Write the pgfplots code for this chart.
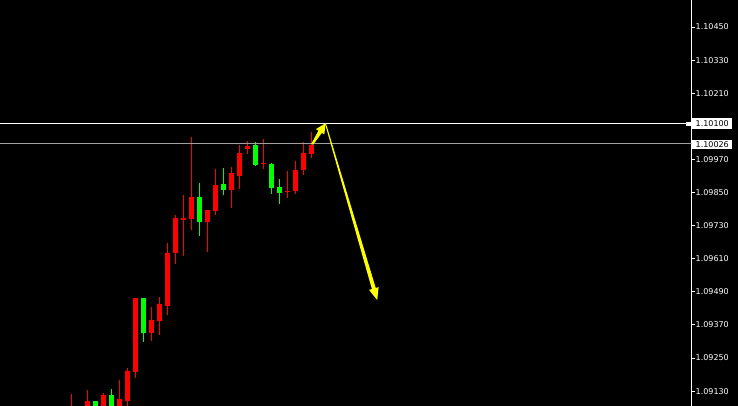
\documentclass[border=0pt]{standalone}
\usepackage{pgfplots}
\pgfplotsset{compat=1.18}
\usepackage{pgfplotstable}
\usepackage{fontspec}
\setmainfont{DejaVu Sans}

% x = candle index, hi/lo = wick, bt/bb = body top/bottom
\pgfplotstableread{
x hi lo bt bb
0 1.09120 1.09000 1.09060 1.09050
1 1.09060 1.09000 1.09050 1.09020
2 1.09135 1.09000 1.09094 1.09040
4 1.09123 1.09000 1.09115 1.09040
6 1.09171 1.09000 1.09101 1.09040
7 1.09214 1.09000 1.09206 1.09095
8 1.09469 1.09178 1.09468 1.09200
10 1.09435 1.09311 1.09387 1.09341
11 1.09472 1.09333 1.09445 1.09385
12 1.09667 1.09407 1.09634 1.09439
13 1.09767 1.09591 1.09757 1.09632
14 1.09841 1.09621 1.09757 1.09754
15 1.10051 1.09715 1.09834 1.09754
17 1.09786 1.09635 1.09786 1.09744
18 1.09935 1.09769 1.09877 1.09784
20 1.09942 1.09795 1.09921 1.09860
21 1.10022 1.09864 1.09993 1.09911
22 1.10040 1.09991 1.10020 1.10009
24 1.10045 1.09936 1.09958 1.09955
27 1.09928 1.09831 1.09857 1.09854
28 1.09964 1.09845 1.09931 1.09855
29 1.10033 1.09916 1.09994 1.09931
30 1.10069 1.09976 1.10025 1.09991
}\redc

\pgfplotstableread{
x hi lo bt bb
3 1.09094 1.09000 1.09094 1.09040
5 1.09138 1.09000 1.09115 1.09040
9 1.09468 1.09308 1.09468 1.09341
16 1.09884 1.09693 1.09834 1.09744
19 1.09939 1.09842 1.09882 1.09860
23 1.10033 1.09947 1.10023 1.09951
25 1.09960 1.09845 1.09957 1.09867
26 1.09902 1.09809 1.09870 1.09849
}\greenc

\definecolor{mtred}{RGB}{255,0,0}
\definecolor{mtgreen}{RGB}{0,255,0}
\definecolor{mtyellow}{RGB}{255,255,0}
\definecolor{mtgray}{RGB}{160,160,160}

\pgfplotsset{candle/.style={only marks, mark=*, mark size=0pt,
  mark options={draw=none, fill=none},
  error bars/.cd, y dir=both, y explicit, error mark=none}}

\begin{document}
\begin{tikzpicture}
\fill[black] (0,0) rectangle (738pt,406pt);
\begin{axis}[
  at={(0,0)}, anchor=south west,
  scale only axis, width=691.5pt, height=406pt,
  xmin=-8.9375, xmax=77.5, ymin=1.09076, ymax=1.10548,
  hide x axis,
  axis y line=right,
  axis line style={-, white, line width=1pt},
  ytick={1.0913,1.0925,1.0937,1.0949,1.0961,1.0973,1.0985,1.0997,1.1009,1.1021,1.1033,1.1045},
  yticklabels={1.09130,1.09250,1.09370,1.09490,1.09610,1.09730,1.09850,1.09970,{},1.10210,1.10330,1.10450},
  tick align=outside, major tick length=3.5pt,
  tick style={white, line width=1pt},
  yticklabel style={anchor=west, inner sep=0pt, font=\fontsize{8pt}{9pt}\selectfont, text=white, xshift=0.5pt},
  clip=true,
]
% wicks
\addplot[candle, error bar style={mtred, line width=1pt}]
  table[x=x, y expr=(\thisrow{hi}+\thisrow{lo})/2, y error expr=(\thisrow{hi}-\thisrow{lo})/2] {\redc};
\addplot[candle, error bar style={mtgreen, line width=1pt}]
  table[x=x, y expr=(\thisrow{hi}+\thisrow{lo})/2, y error expr=(\thisrow{hi}-\thisrow{lo})/2] {\greenc};
% bodies
\addplot[candle, error bar style={mtred, line width=5pt}]
  table[x=x, y expr=(\thisrow{bt}+\thisrow{bb})/2, y error expr=(\thisrow{bt}-\thisrow{bb})/2] {\redc};
\addplot[candle, error bar style={mtgreen, line width=5pt}]
  table[x=x, y expr=(\thisrow{bt}+\thisrow{bb})/2, y error expr=(\thisrow{bt}-\thisrow{bb})/2] {\greenc};
% horizontal lines
\addplot[white, line width=1pt] coordinates {(-8.9375,1.10100) (77.5,1.10100)};
\addplot[mtgray, line width=1pt] coordinates {(-8.9375,1.10026) (77.5,1.10026)};
% yellow arrows
\addplot[fill=mtyellow, draw=none] coordinates {
 (30.19,1.10023) (31.29,1.10066) (31.61,1.10061) (31.75,1.10101)
 (30.56,1.10080) (30.87,1.10074) (29.98,1.10027)} -- cycle;
\addplot[fill=mtyellow, draw=none] coordinates {
 (31.81,1.10100) (38.03,1.09504) (38.39,1.09507) (38.21,1.09460)
 (37.19,1.09497) (37.55,1.09500) (31.69,1.10099)} -- cycle;
\coordinate (L1) at (axis cs:77.5,1.10100);
\coordinate (L2) at (axis cs:77.5,1.10026);
\end{axis}
\fill[white] ([xshift=-6pt,yshift=-2pt]L1) rectangle ([xshift=-1pt,yshift=2pt]L1);
\node[fill=white, text=black, anchor=west, inner xsep=3.5pt, inner ysep=0pt, minimum height=10.5pt,
  font=\fontsize{8pt}{9pt}\selectfont] at ([xshift=0.5pt]L1) {1.10100};
\node[fill=white, text=black, anchor=west, inner xsep=3.5pt, inner ysep=0pt, minimum height=9.5pt,
  font=\fontsize{8pt}{9pt}\selectfont] at ([xshift=0.5pt,yshift=-0.5pt]L2) {1.10026};
\pgfresetboundingbox
\useasboundingbox (0,0) rectangle (738pt,406pt);
\end{tikzpicture}
\end{document}
